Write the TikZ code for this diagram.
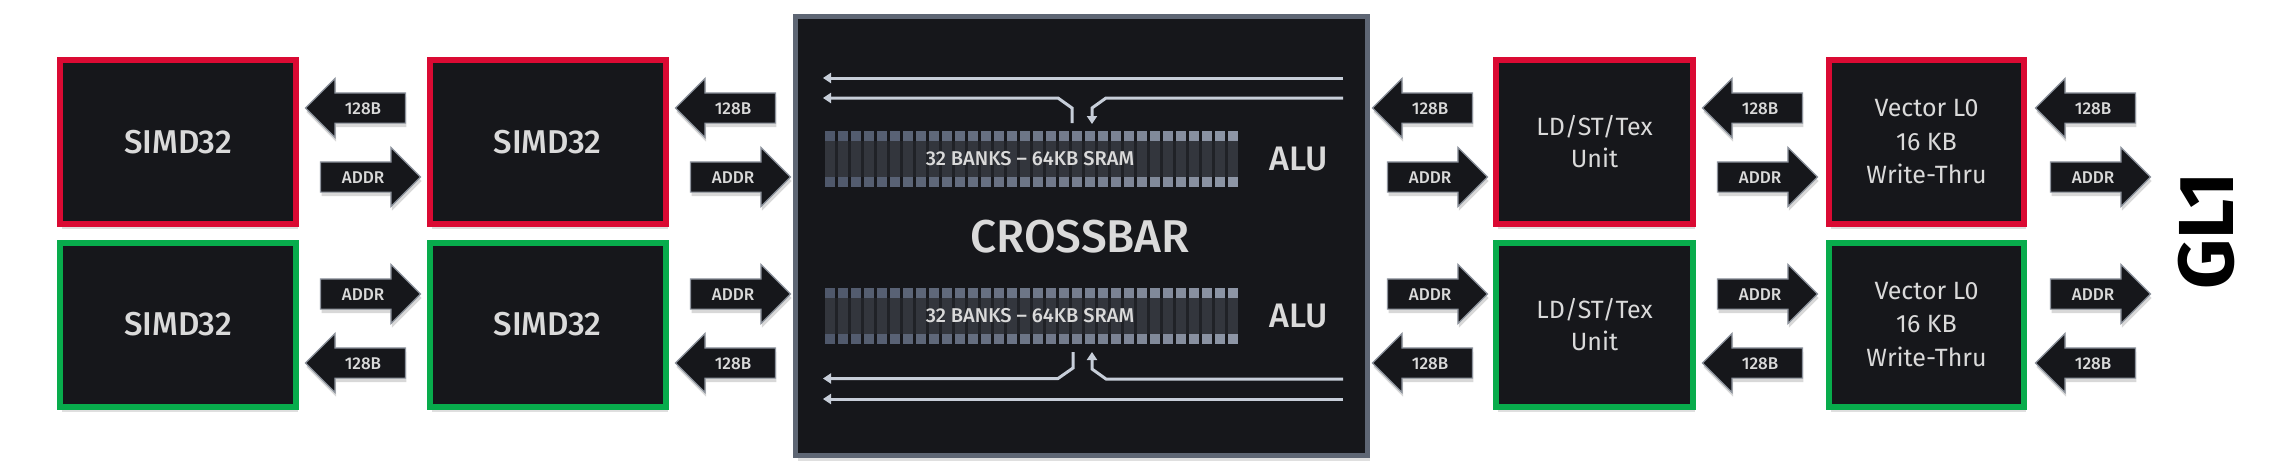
\documentclass[tikz,border=0pt]{standalone}
\usepackage{fontspec}
\setmainfont{Fira Sans}
\newfontfamily\medfont{Fira Sans Medium}
\usetikzlibrary{shapes.arrows, arrows.meta, shadows}

\definecolor{chip}{HTML}{16171B}
\definecolor{redline}{HTML}{DA0A33}
\definecolor{greenline}{HTML}{08AC4C}
\definecolor{frame}{HTML}{5E6674}
\definecolor{wire}{HTML}{C7CED9}
\definecolor{label}{HTML}{DADADA}
\definecolor{banklo}{HTML}{4F586B}
\definecolor{bankhi}{HTML}{8E96A6}
\definecolor{bankmid}{HTML}{33363D}
\definecolor{bankgap}{HTML}{202227}

\tikzset{
  unit/.style={draw=#1, line width=6pt, fill=chip, text=label, align=center,
    inner sep=0pt, drop shadow={shadow xshift=2pt, shadow yshift=-5pt,
    opacity=0.25}},
  simd/.style={unit=#1, minimum width=236pt, minimum height=164pt,
    font=\medfont\fontsize{33}{38}\selectfont},
  ldst/.style={unit=#1, minimum width=197pt, minimum height=164pt,
    font=\fontsize{25}{32}\selectfont},
  vecl/.style={unit=#1, minimum width=195pt, minimum height=164pt,
    font=\fontsize{25}{33.5}\selectfont},
  bus/.style={single arrow, single arrow head extend=14.5pt,
    single arrow tip angle=90, minimum height=100pt, inner xsep=4pt,
    inner ysep=8.5pt, text height=12pt, text depth=0pt, fill=chip,
    draw=frame!70!white, line width=1.2pt, text=label,
    font=\medfont\fontsize{17}{17}\selectfont,
    drop shadow={shadow xshift=1pt, shadow yshift=-4pt, opacity=0.3}},
  busl/.style={bus, shape border rotate=180},
  wireline/.style={draw=wire, line width=3pt,
    -{Triangle[width=10pt, length=8pt]}},
}

\begin{document}
\begin{tikzpicture}[x=1pt, y=-1pt]
  \useasboundingbox (0, 0) rectangle (2280, 472);
  \fill[white] (0, 0) rectangle (2280, 472);

  \node[simd=redline]   (S1) at (178, 142)   {SIMD32};
  \node[simd=greenline] (S2) at (178, 324.5) {SIMD32};
  \node[simd=redline]   (S3) at (547.5, 142)   {SIMD32};
  \node[simd=greenline] (S4) at (547.5, 324.5) {SIMD32};

  \node[draw=frame, line width=5pt, fill=chip, minimum width=572pt,
    minimum height=439pt, drop shadow={shadow xshift=2pt, shadow yshift=-5pt,
    opacity=0.25}] (X) at (1081.5, 236) {};

  \node[ldst=redline]   (L1) at (1594.5, 142)   {LD/ST/Tex\\Unit};
  \node[ldst=greenline] (L2) at (1594.5, 324.5) {LD/ST/Tex\\Unit};
  \node[vecl=redline]   (V1) at (1926.5, 142)   {Vector L0\\16 KB\\Write-Thru};
  \node[vecl=greenline] (V2) at (1926.5, 324.5) {Vector L0\\16 KB\\Write-Thru};

  \foreach \x [count=\n] in {363, 733, 1430, 1760, 2093} {
    \node[busl] (Dt\n) at (\x, 108) {128B};
    \node[bus]  (At\n) at (\x, 177) {ADDR};
    \node[bus]  (Ab\n) at (\x, 294) {ADDR};
    \node[busl] (Db\n) at (\x, 363) {128B};
  }

  \foreach \by in {131, 288} {
    \fill[bankgap] (825, \by+10) rectangle (1237.5, \by+46);
    \foreach \i in {0, ..., 31} {
      \pgfmathtruncatemacro\mix{100*\i/31}
      \colorlet{sq}{bankhi!\mix!banklo}
      \fill[sq] (825+13*\i, \by) rectangle +(9.5, 10);
      \fill[bankmid] (825+13*\i, \by+10) rectangle +(9.5, 36);
      \fill[sq] (825+13*\i, \by+46) rectangle +(9.5, 10);
    }
  }
  \node[text=label, font=\medfont\fontsize{20}{20}\selectfont] (B1)
    at (1030, 159) {32 BANKS – 64KB SRAM};
  \node[text=label, font=\medfont\fontsize{20}{20}\selectfont] (B2)
    at (1030, 316) {32 BANKS – 64KB SRAM};
  \node[text=label, font=\medfont\fontsize{34}{34}\selectfont] (U1)
    at (1299, 159) {ALU};
  \node[text=label, font=\medfont\fontsize{34}{34}\selectfont] (U2)
    at (1299, 316) {ALU};
  \node[text=label, font=\medfont\fontsize{46}{46}\selectfont] (C)
    at (1080, 237) {CROSSBAR};

  \coordinate (Wa) at (1343, 78);
  \coordinate (Wb) at (823, 78);
  \coordinate (Wc) at (1343, 399);
  \coordinate (Wd) at (823, 399);
  \draw[wireline] (Wa) -- (Wb);
  \draw[wireline] (1072, 123) -- (1072, 108) -- (1058, 98) -- (823, 98);
  \draw[wireline] (1343, 98) -- (1106, 98) -- (1092, 108) -- (1092, 124);
  \draw[wireline] (1073, 352) -- (1073, 368) -- (1058, 378.5) -- (823, 378.5);
  \draw[wireline] (1343, 379) -- (1106, 379) -- (1092, 369) -- (1092, 352);
  \draw[wireline] (Wc) -- (Wd);

  \node[rotate=90, font=\bfseries\fontsize{78}{78}\selectfont] (GL)
    at (2206, 231) {GL1};
\end{tikzpicture}
\end{document}
